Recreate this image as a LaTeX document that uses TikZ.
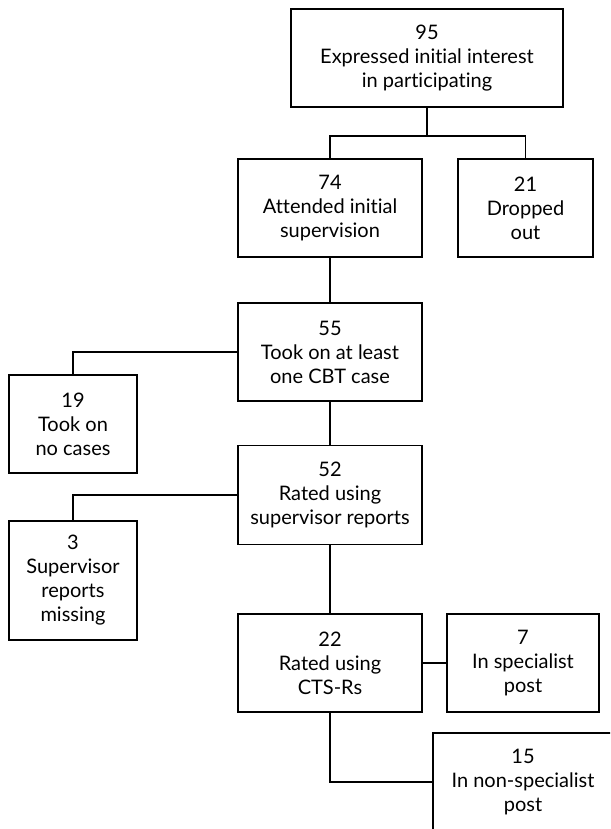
\documentclass[tikz,border=0pt]{standalone}
\usepackage{fontspec}
\setmainfont[Ligatures={NoCommon}]{Lato}
\begin{document}
\begin{tikzpicture}[x=1pt,y=-1pt,
  box/.style={draw=black,line width=1.6pt,align=center,inner sep=0pt,
    font=\fontsize{20}{24}\selectfont,text=black},
  conn/.style={draw=black,line width=1.6pt}]
\clip (0,0) rectangle (610,829);
\fill[white] (0,0) rectangle (610,829);
\node[box,minimum width=272pt,minimum height=98pt] (b95) at (427,58) {95\\Expressed initial interest\\in participating};
\node[box,minimum width=184pt,minimum height=98pt] (b74) at (330,208) {74\\Attended initial\\supervision};
\node[box,minimum width=135pt,minimum height=98pt] (b21) at (525.5,208) {21\\Dropped\\out};
\node[box,minimum width=184pt,minimum height=98pt] (b55) at (330,352) {55\\Took on at least\\one CBT case};
\node[box,minimum width=128pt,minimum height=98pt] (b19) at (73,424) {19\\Took on\\no cases};
\node[box,minimum width=184pt,minimum height=99pt] (b52) at (330,495) {52\\Rated using\\supervisor reports};
\node[box,minimum width=128pt,minimum height=119pt] (b3) at (73,580.5) {3\\Supervisor\\reports\\missing};
\node[box,minimum width=184pt,minimum height=98pt] (b22) at (330,663) {22\\Rated using\\CTS-Rs};
\node[box,minimum width=152pt,minimum height=98pt] (b7) at (523,663) {7\\In specialist\\post};
\node[box,minimum width=180pt,minimum height=98pt] (b15) at (523,782) {15\\In non-specialist\\post};
\coordinate (j1) at (427,136);
\draw[conn] (b95.south) -- (j1);
\draw[conn] (b74.north) |- (j1) -| (b21.north);
\draw[conn] (b74.south) -- (b55.north);
\draw[conn] (b55.west) -| (b19.north);
\draw[conn] (b55.south) -- (b52.north);
\draw[conn] (b52.west) -| (b3.north);
\draw[conn] (b52.south) -- (b22.north);
\draw[conn] (b22.east) -- (b7.west);
\draw[conn] (b22.south) |- (b15.west);
\end{tikzpicture}
\end{document}
